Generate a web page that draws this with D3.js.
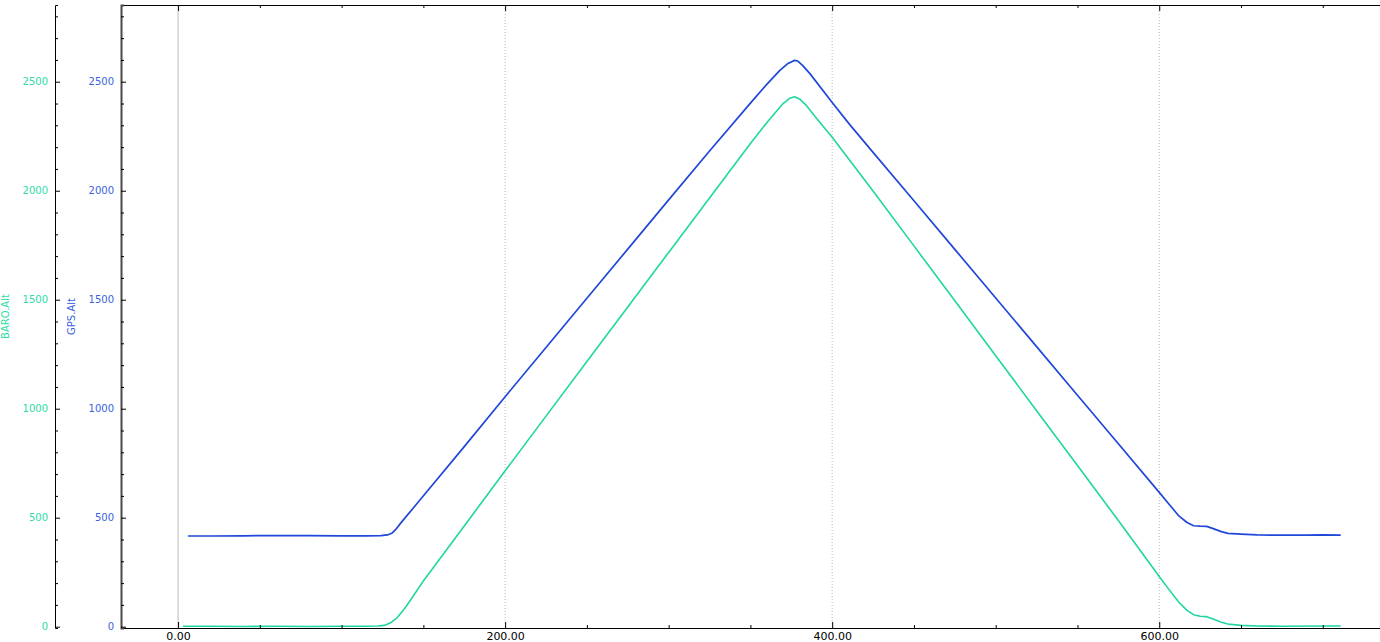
<!DOCTYPE html>
<html>
<head>
<meta charset="utf-8">
<script src="https://cdn.jsdelivr.net/npm/d3@7"></script>
<style>
  html, body { margin: 0; padding: 0; background: #fff; }
  svg { display: block; font-family: "DejaVu Sans", sans-serif; }
</style>
</head>
<body>
<div id="chart"></div>
<script>
// time (s) and altitudes
const gpsTime = [6, 20, 40, 60, 80, 100, 115, 124, 128, 131, 133, 136, 146, 175, 200, 225, 250, 275, 300, 325, 350, 360, 368, 373, 377, 379, 382, 386.5, 400, 411, 425, 450, 475, 500, 525, 550, 575, 600, 606, 612, 617, 621, 625, 629, 633, 638, 642, 650, 660, 675, 690, 700, 711];
const gpsAlt = [416, 416, 417, 418, 418, 417, 417, 418, 421, 430, 445, 474, 564, 826, 1055, 1281, 1507, 1732, 1958, 2182, 2402, 2488, 2552, 2584, 2598, 2595, 2574, 2536, 2405, 2301, 2176, 1954, 1731, 1508, 1285, 1062, 839, 616, 562, 508, 478, 463, 461, 460, 450, 436, 428, 425, 421, 420, 420, 421, 420];

const baroTime = [3, 20, 40, 60, 80, 100, 115, 122, 126, 130, 134, 138, 142, 150, 175, 200, 225, 250, 275, 300, 325, 350, 360, 365, 370, 374, 377, 380, 384, 390, 400, 425, 450, 475, 500, 525, 550, 575, 600, 606, 612, 617, 621, 625, 629, 633, 638, 642, 650, 660, 675, 700, 711];
const baroAlt = [2, 2, 1, 2, 1, 2, 2, 3, 6, 18, 42, 78, 120, 210, 462, 715, 966, 1217, 1467, 1717, 1967, 2217, 2312, 2357, 2400, 2424, 2431, 2421, 2393, 2336, 2245, 1999, 1747, 1495, 1243, 991, 739, 487, 230, 170, 112, 75, 55, 48, 46, 35, 20, 12, 6, 3, 2, 3, 3];

const xMajorTicks = [0, 200, 400, 600];
const xMinorTicks = [50, 100, 150, 250, 300, 350, 450, 500, 550, 650, 700];
const yMajorTicks = [0, 500, 1000, 1500, 2000, 2500];
const yMinorTicks = [100, 200, 300, 400, 600, 700, 800, 900, 1100, 1200, 1300, 1400, 1600, 1700, 1800, 1900, 2100, 2200, 2300, 2400, 2600, 2700, 2800];

const width = 1380, height = 642;
const baroColor = "#1fd6a2", gpsColor = "#1f48d8";
const baroText = "#2edba8", gpsText = "#3a5fe2";

const plotLeft = 121, plotRight = 1380, plotTop = 5, plotBottom = 628;
const baroAxisX = 55;

const svg = d3.select("#chart").append("svg")
  .attr("width", width)
  .attr("height", height);

const x = d3.scaleLinear().domain([-34.9, 735]).range([plotLeft, plotRight]);
const y = d3.scaleLinear().domain([-6, 2852]).range([plotBottom, plotTop]);

// vertical grid
svg.append("g").selectAll("line")
  .data(xMajorTicks)
  .enter().append("line")
  .attr("x1", d => x(d)).attr("x2", d => x(d))
  .attr("y1", plotTop).attr("y2", plotBottom)
  .attr("stroke", "#bbb")
  .attr("stroke-width", 1)
  .attr("stroke-dasharray", d => d === 0 ? null : "1,2");

// series
const line = (ts) => d3.line().x((d, i) => x(ts[i])).y(d => y(d));

svg.append("path")
  .datum(baroAlt)
  .attr("fill", "none")
  .attr("stroke", baroColor)
  .attr("stroke-width", 1.6)
  .attr("stroke-linejoin", "round")
  .attr("d", line(baroTime));

svg.append("path")
  .datum(gpsAlt)
  .attr("fill", "none")
  .attr("stroke", gpsColor)
  .attr("stroke-width", 1.7)
  .attr("stroke-linejoin", "round")
  .attr("d", line(gpsTime));

// bottom axis
svg.append("g")
  .attr("transform", `translate(0,${plotBottom})`)
  .call(d3.axisBottom(x).tickValues(xMajorTicks).tickFormat(d3.format(".2f")).tickSizeInner(-6).tickSizeOuter(0).tickPadding(4))
  .call(g => g.selectAll("text").attr("fill", "#000").attr("font-size", 11).attr("font-family", "DejaVu Sans"));
svg.append("g")
  .attr("transform", `translate(0,${plotBottom})`)
  .call(d3.axisBottom(x).tickValues(xMinorTicks).tickFormat("").tickSizeInner(-3).tickSizeOuter(0))
  .call(g => g.select(".domain").remove());

// top axis
svg.append("g")
  .attr("transform", `translate(0,${plotTop})`)
  .call(d3.axisTop(x).tickValues(xMajorTicks).tickFormat("").tickSizeInner(-6).tickSizeOuter(0));
svg.append("g")
  .attr("transform", `translate(0,${plotTop})`)
  .call(d3.axisTop(x).tickValues(xMinorTicks).tickFormat("").tickSizeInner(-3).tickSizeOuter(0))
  .call(g => g.select(".domain").remove());

// left axes
function yAxis(xPos, textColor, domainWidth, domainColor) {
  const g = svg.append("g").attr("transform", `translate(${xPos},0)`);
  g.call(d3.axisLeft(y).tickValues(yMajorTicks).tickFormat(d3.format("d")).tickSizeInner(-5).tickSizeOuter(-3).tickPadding(7))
    .call(g => g.selectAll("text").attr("fill", textColor).attr("font-size", 10).attr("font-family", "DejaVu Sans"))
    .call(g => g.select(".domain").attr("stroke", domainColor).attr("stroke-width", domainWidth));
  svg.append("g").attr("transform", `translate(${xPos},0)`)
    .call(d3.axisLeft(y).tickValues(yMinorTicks).tickFormat("").tickSizeInner(-3).tickSizeOuter(0))
    .call(g => g.select(".domain").remove());
}
yAxis(baroAxisX, baroText, 1, "#000");
yAxis(plotLeft, gpsText, 2, "#4a4a4a");

// axis titles
const midY = (plotTop + plotBottom) / 2;
svg.append("text")
  .attr("transform", `translate(9,${midY}) rotate(-90)`)
  .attr("text-anchor", "middle")
  .attr("font-size", 10)
  .attr("fill", baroText)
  .text("BARO.Alt");
svg.append("text")
  .attr("transform", `translate(75,${midY}) rotate(-90)`)
  .attr("text-anchor", "middle")
  .attr("font-size", 10)
  .attr("fill", gpsText)
  .text("GPS.Alt");
</script>
</body>
</html>
